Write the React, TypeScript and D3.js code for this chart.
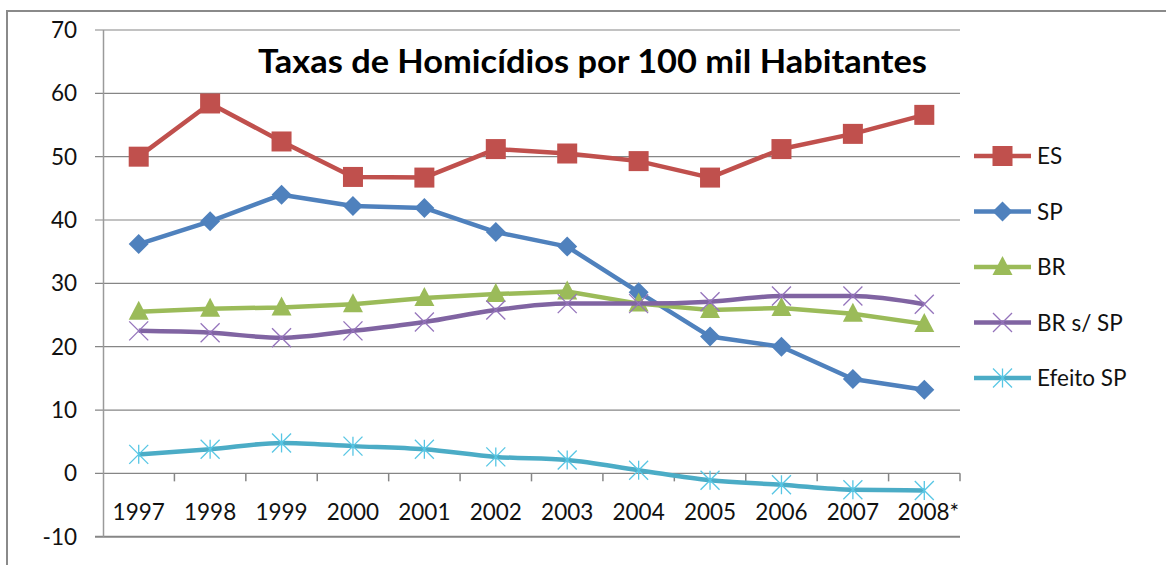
import React from "react";
import * as d3 from "d3";

const years = ["1997", "1998", "1999", "2000", "2001", "2002", "2003", "2004", "2005", "2006", "2007", "2008*"];
const esValues = [50.0, 58.4, 52.4, 46.8, 46.7, 51.2, 50.5, 49.3, 46.7, 51.2, 53.6, 56.6];
const spValues = [36.2, 39.8, 44.0, 42.2, 41.9, 38.1, 35.8, 28.6, 21.6, 20.0, 14.9, 13.2];
const brValues = [25.5, 26.0, 26.2, 26.7, 27.7, 28.3, 28.7, 26.8, 25.8, 26.1, 25.2, 23.6];
const brSemSpValues = [22.5, 22.2, 21.4, 22.5, 23.9, 25.8, 26.8, 26.8, 27.1, 28.0, 28.0, 26.7];
const efeitoSpValues = [3.0, 3.8, 4.8, 4.3, 3.8, 2.6, 2.1, 0.5, -1.1, -1.8, -2.6, -2.7];
const yTicks = [70, 60, 50, 40, 30, 20, 10, 0, -10];

const series = [
  { name: "ES", values: esValues, color: "#C0504D", marker: "square", smooth: false },
  { name: "SP", values: spValues, color: "#4F81BD", marker: "diamond", smooth: false },
  { name: "BR", values: brValues, color: "#9BBB59", marker: "triangle", smooth: false },
  { name: "BR s/ SP", values: brSemSpValues, color: "#8064A2", marker: "x", smooth: true },
  { name: "Efeito SP", values: efeitoSpValues, color: "#4BACC6", marker: "star", smooth: true },
];

const FONT = "Lato, 'Open Sans', sans-serif";

function Marker({ type, x, y, color }: { type: string; x: number; y: number; color: string }) {
  if (type === "square") {
    return <rect x={x - 10} y={y - 10} width={20} height={20} fill={color} />;
  }
  if (type === "diamond") {
    return <path d={`M${x},${y - 10}L${x + 10},${y}L${x},${y + 10}L${x - 10},${y}Z`} fill={color} />;
  }
  if (type === "triangle") {
    return <path d={`M${x},${y - 11}L${x + 10},${y + 8}L${x - 10},${y + 8}Z`} fill={color} />;
  }
  const s = 9.5;
  const light = d3.color(color)!.brighter(0.4).formatHex();
  return (
    <g stroke={light} strokeWidth={1.3} fill="none">
      <line x1={x - s} y1={y - s} x2={x + s} y2={y + s} />
      <line x1={x - s} y1={y + s} x2={x + s} y2={y - s} />
      {type === "star" && <line x1={x} y1={y - s} x2={x} y2={y + s} />}
    </g>
  );
}

export default function App() {
  const width = 1166;
  const height = 565;
  const x = d3.scaleBand<string>().domain(years).range([103, 960]).padding(0);
  const y = d3.scaleLinear().domain([-10, 70]).range([536.7, 30]);

  const legendY = d3.scalePoint<string>().domain(series.map((s) => s.name)).range([156, 378]);

  return (
    <svg width={width} height={height} style={{ position: "absolute", left: 0, top: 0, background: "#fff" }}>
      {/* outer frame */}
      <rect x={7} y={11} width={width + 20} height={height + 20} fill="none" stroke="#8a8a8a" strokeWidth={2} />

      {/* grid lines */}
      {yTicks.map((t) => (
        <line
          key={t}
          x1={95}
          x2={960}
          y1={y(t)}
          y2={y(t)}
          stroke="#868686"
          strokeWidth={t === -10 ? 2 : 1.2}
        />
      ))}
      {/* y axis */}
      <line x1={103.5} x2={103.5} y1={y(70)} y2={y(-10)} stroke="#9a9a9a" strokeWidth={1.5} />
      {/* x axis ticks at zero */}
      {years.map((yr) => (
        <line
          key={yr}
          x1={(x(yr) ?? 0) + x.bandwidth()}
          x2={(x(yr) ?? 0) + x.bandwidth()}
          y1={y(0)}
          y2={y(0) + 8}
          stroke="#868686"
          strokeWidth={1.5}
        />
      ))}

      {/* y labels */}
      {yTicks.map((t) => (
        <text key={t} x={77} y={y(t) + 8} textAnchor="end" fontFamily={FONT} fontSize={22.5} fill="#111">
          {t}
        </text>
      ))}
      {/* x labels */}
      {years.map((yr) => (
        <text
          key={yr}
          x={(x(yr) ?? 0) + x.bandwidth() / 2 + (yr.endsWith("*") ? 4 : 0)}
          y={520}
          textAnchor="middle"
          fontFamily={FONT}
          fontSize={22.5}
          fill="#111"
        >
          {yr}
        </text>
      ))}

      {/* title */}
      <text x={258} y={72.5} fontFamily={FONT} fontWeight="bold" fontSize={32} textLength={669} lengthAdjust="spacingAndGlyphs" fill="#000">
        Taxas de Homicídios por 100 mil Habitantes
      </text>

      {/* series */}
      {series.map((s) => {
        const line = d3
          .line<number>()
          .x((_, i) => (x(years[i]) ?? 0) + x.bandwidth() / 2)
          .y((d) => y(d))
          .curve(s.smooth ? d3.curveMonotoneX : d3.curveLinear);
        return (
          <g key={s.name}>
            <path d={line(s.values) ?? ""} fill="none" stroke={s.color} strokeWidth={4.5} strokeLinejoin="round" />
            {s.values.map((v, i) => (
              <Marker key={i} type={s.marker} x={(x(years[i]) ?? 0) + x.bandwidth() / 2} y={y(v)} color={s.color} />
            ))}
          </g>
        );
      })}

      {/* legend */}
      {series.map((s) => {
        const ly = legendY(s.name) ?? 0;
        return (
          <g key={s.name}>
            <line x1={974} x2={1031} y1={ly} y2={ly} stroke={s.color} strokeWidth={4.5} />
            <Marker type={s.marker} x={1002.5} y={ly} color={s.color} />
            <text x={1037} y={ly + 8} fontFamily={FONT} fontSize={22.5} fill="#111">
              {s.name}
            </text>
          </g>
        );
      })}
    </svg>
  );
}
